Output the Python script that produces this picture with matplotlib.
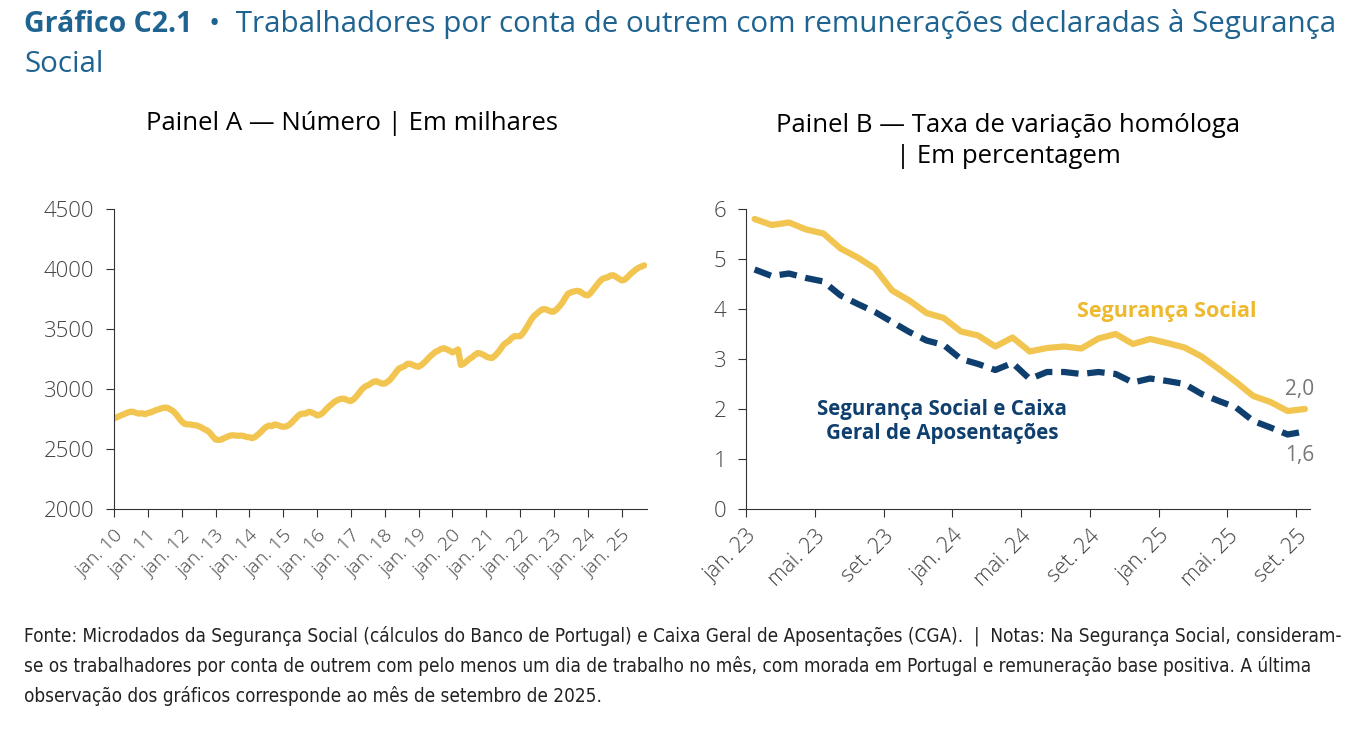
import matplotlib
matplotlib.use("Agg")
import matplotlib.pyplot as plt
import numpy as np

# Painel A - trabalhadores (milhares), jan. 2010 a set. 2025
y2010 = [2755, 2765, 2775, 2785, 2795, 2805, 2812, 2808, 2800, 2795, 2798, 2790]
y2011 = [2800, 2805, 2815, 2825, 2832, 2840, 2845, 2842, 2830, 2815, 2790, 2760]
y2012 = [2730, 2710, 2705, 2705, 2700, 2698, 2690, 2680, 2665, 2655, 2635, 2605]
y2013 = [2580, 2575, 2578, 2590, 2600, 2610, 2615, 2612, 2610, 2612, 2608, 2600]
y2014 = [2598, 2590, 2600, 2620, 2640, 2665, 2685, 2695, 2690, 2705, 2700, 2690]
y2015 = [2685, 2688, 2700, 2720, 2745, 2770, 2790, 2795, 2795, 2810, 2805, 2795]
y2016 = [2780, 2785, 2800, 2825, 2850, 2870, 2890, 2905, 2915, 2920, 2915, 2905]
y2017 = [2900, 2915, 2940, 2970, 3000, 3020, 3030, 3045, 3060, 3065, 3055, 3045]
y2018 = [3045, 3060, 3080, 3110, 3140, 3170, 3180, 3190, 3210, 3210, 3200, 3190]
y2019 = [3185, 3200, 3220, 3245, 3270, 3290, 3310, 3320, 3335, 3340, 3330, 3320]
y2020 = [3305, 3315, 3330, 3200, 3210, 3230, 3250, 3265, 3285, 3300, 3295, 3285]
y2021 = [3270, 3262, 3258, 3275, 3300, 3330, 3365, 3385, 3400, 3425, 3440, 3440]
y2022 = [3440, 3465, 3500, 3540, 3580, 3610, 3630, 3650, 3665, 3665, 3655, 3645]
y2023 = [3645, 3665, 3690, 3720, 3760, 3795, 3805, 3812, 3818, 3815, 3800, 3785]
y2024 = [3780, 3800, 3830, 3860, 3890, 3915, 3925, 3930, 3945, 3948, 3935, 3920]
y2025 = [3905, 3910, 3930, 3955, 3975, 3995, 4010, 4020, 4030]
numero = (y2010 + y2011 + y2012 + y2013 + y2014 + y2015 + y2016 + y2017 + y2018
          + y2019 + y2020 + y2021 + y2022 + y2023 + y2024 + y2025)
labels_a = ["jan. %02d" % a for a in range(10, 26)]

# Painel B - taxa de variação homóloga (%), jan. 2023 a set. 2025
seg_social = [5.80, 5.68, 5.73, 5.59, 5.51, 5.21, 5.03, 4.81, 4.37, 4.17, 3.92, 3.82,
              3.55, 3.47, 3.25, 3.43, 3.15, 3.22, 3.25, 3.21, 3.41, 3.50, 3.30, 3.40,
              3.32, 3.23, 3.05, 2.80, 2.54, 2.26, 2.14, 1.96, 2.00]
ss_cga = [4.79, 4.66, 4.71, 4.62, 4.55, 4.27, 4.10, 3.94, 3.74, 3.54, 3.37, 3.28,
          3.00, 2.90, 2.78, 2.92, 2.60, 2.74, 2.74, 2.70, 2.74, 2.70, 2.53, 2.61,
          2.56, 2.50, 2.30, 2.16, 2.03, 1.76, 1.63, 1.49, 1.55]
labels_b = ["jan. 23", "mai. 23", "set. 23", "jan. 24", "mai. 24", "set. 24",
            "jan. 25", "mai. 25", "set. 25"]

gold = "#F1C550"
navy = "#0E3F6E"
grey = "#444444"
blue_title = "#1F6391"

plt.rcParams["font.family"] = ["Open Sans", "DejaVu Sans"]
W, H = 1362, 731
fig = plt.figure(figsize=(W / 100, H / 100), dpi=100)


def box(x0, x1, ytop, ybot):
    return [x0 / W, 1 - ybot / H, (x1 - x0) / W, (ybot - ytop) / H]


fig.text(24 / W, 1 - 24 / H, "Gráfico C2.1", fontsize=20.5, fontweight="bold",
         color=blue_title, va="center")
fig.text(209 / W, 1 - 24 / H, "•  Trabalhadores por conta de outrem com remunerações declaradas à Segurança",
         fontsize=21.3, color=blue_title, va="center")
fig.text(24 / W, 1 - 64 / H, "Social", fontsize=21.3, color=blue_title, va="center")

fig.text(352 / W, 1 - 124 / H, "Painel A — Número | Em milhares", fontsize=18.5,
         ha="center", va="center")
fig.text(1008 / W, 1 - 141 / H, "Painel B — Taxa de variação homóloga\n| Em percentagem",
         fontsize=18.5, ha="center", va="center", linespacing=1.3)

# painel A
ax1 = fig.add_axes(box(114, 647, 209, 509))
ax1.plot(np.arange(len(numero)), numero, color=gold, lw=4.5, solid_capstyle="round")
ax1.set_xlim(0, 189)
ax1.set_ylim(2000, 4500)
ax1.set_yticks([2000, 2500, 3000, 3500, 4000, 4500])
ax1.set_xticks(np.arange(0, 181, 12))
ax1.set_xticklabels(labels_a, rotation=45, ha="right", va="top",
                    rotation_mode="anchor", fontsize=14)

# painel B
ax2 = fig.add_axes(box(746, 1310, 209, 509))
xb = np.arange(len(seg_social)) + 0.5
ax2.plot(xb, ss_cga, color=navy, lw=4.5, dashes=(2.8, 1.4))
ax2.plot(xb, seg_social, color=gold, lw=4.5, solid_capstyle="round")
ax2.set_xlim(0, 32.8)
ax2.set_ylim(0, 6)
ax2.set_yticks(range(0, 7))
ax2.set_xticks(np.arange(0, 33, 4))
ax2.set_xticklabels(labels_b, rotation=45, ha="right", va="top",
                    rotation_mode="anchor", fontsize=15.5)
ax2.text(24.5, 3.95, "Segurança Social", color="#EDB92E", fontsize=15.5, fontweight="bold",
         ha="center", va="center")
ax2.text(11.4, 1.75, "Segurança Social e Caixa\nGeral de Aposentações", color=navy,
         fontsize=14.8, fontweight="bold", ha="center", va="center", linespacing=1.2)
ax2.text(32.2, 2.4, "2,0", color="#777777", fontsize=15, ha="center", va="center")
ax2.text(32.2, 1.08, "1,6", color="#777777", fontsize=15, ha="center", va="center")

for ax in (ax1, ax2):
    ax.spines["top"].set_visible(False)
    ax.spines["right"].set_visible(False)
    ax.spines["left"].set_color("#333333")
    ax.spines["bottom"].set_color("#333333")
    ax.tick_params(colors="#333333", labelcolor=grey, length=6)
    ax.tick_params(axis="y", labelsize=16, pad=8)
    ax.tick_params(axis="x", pad=6)
    for lab in ax.get_xticklabels() + ax.get_yticklabels():
        lab.set_fontweight("light")

fig.text(24 / W, 1 - 626 / H,
         "Fonte: Microdados da Segurança Social (cálculos do Banco de Portugal) e Caixa Geral de Aposentações (CGA).  |  Notas: Na Segurança Social, consideram-\n"
         "se os trabalhadores por conta de outrem com pelo menos um dia de trabalho no mês, com morada em Portugal e remuneração base positiva. A última\n"
         "observação dos gráficos corresponde ao mês de setembro de 2025.",
         fontsize=13.6, family="DejaVu Sans", fontstretch="condensed", va="top",
         linespacing=1.6, color="#222222")

fig.savefig("out.png", dpi=100)
